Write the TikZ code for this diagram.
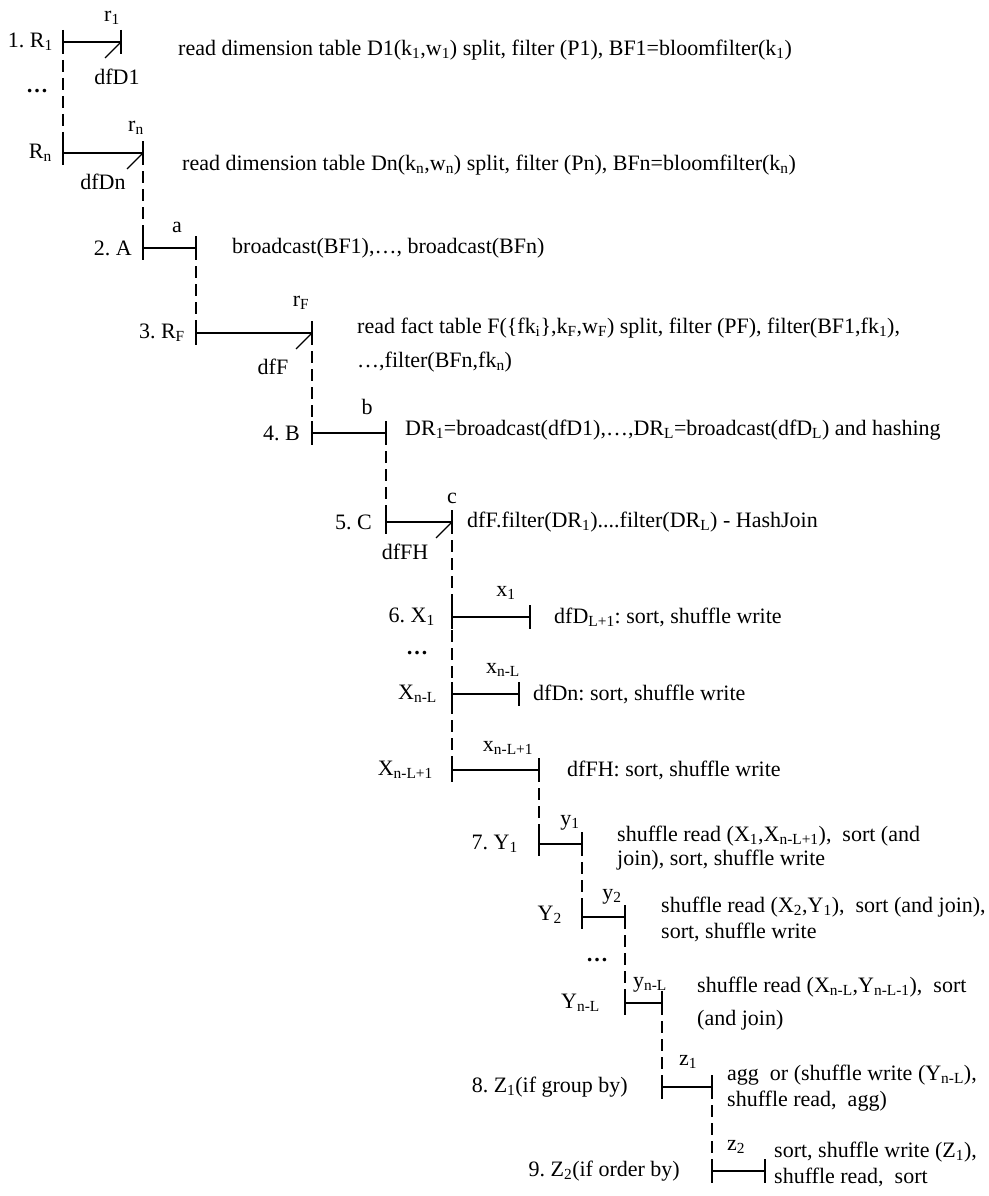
\documentclass[tikz,border=0pt]{standalone}
\usepackage{fontspec}
\setmainfont{Liberation Serif}
\newcommand{\sbs}[1]{\textsubscript{#1}}
\begin{document}
\frenchspacing
\begin{tikzpicture}[x=1pt,y=-1pt,
  every node/.style={font=\fontsize{22}{25}\selectfont, inner sep=0pt},
  bar/.style={line width=1.8pt},
  tickline/.style={line width=1.1pt},
  link/.style={line width=1.1pt, dash pattern=on 12pt off 6pt},
  lab/.style={anchor=east},
  desc/.style={anchor=west},
  toplab/.style={anchor=center}]
\useasboundingbox (0,0) rectangle (988,1196);
% row coordinates
\coordinate (r1s) at (63,42);   \coordinate (r1e) at (121,42);
\coordinate (rns) at (63,153);  \coordinate (rne) at (143,153);
\coordinate (as)  at (143,248); \coordinate (ae)  at (196,248);
\coordinate (fs)  at (196,333); \coordinate (fe)  at (312,333);
\coordinate (bs)  at (312,433); \coordinate (be)  at (386,433);
\coordinate (cs)  at (386,522); \coordinate (ce)  at (452,522);
\coordinate (x1s) at (452,617); \coordinate (x1e) at (530,617);
\coordinate (x2s) at (452,694); \coordinate (x2e) at (519,694);
\coordinate (x3s) at (452,770); \coordinate (x3e) at (539,770);
\coordinate (y1s) at (539,844); \coordinate (y1e) at (582,844);
\coordinate (y2s) at (582,917); \coordinate (y2e) at (625,917);
\coordinate (y3s) at (625,1003); \coordinate (y3e) at (662,1003);
\coordinate (z1s) at (662,1087); \coordinate (z1e) at (712,1087);
\coordinate (z2s) at (712,1171); \coordinate (z2e) at (765,1171);
% bars
\foreach \a/\b in {r1s/r1e,rns/rne,as/ae,fs/fe,bs/be,cs/ce,x1s/x1e,x2s/x2e,x3s/x3e,y1s/y1e,y2s/y2e,y3s/y3e,z1s/z1e,z2s/z2e}
  \draw[bar] (\a) -- (\b);
% ticks
\foreach \c in {r1s,r1e,rns,rne,as,ae,fs,fe,bs,be,cs,ce,x1s,x1e,x2s,x2e,x3s,x3e,y1s,y1e,y2s,y2e,y3s,y3e,z1s,z1e,z2s,z2e}
  \draw[tickline] ([yshift=12pt]\c) -- ([yshift=-12pt]\c);
% slashes
\foreach \c in {r1e,rne,fe,ce}
  \draw[tickline] (\c) -- ++(-16,16);
% dashed links
\draw[link] (r1s) -- (rns);
\draw[link] (rne) -- (as);
\draw[link] (ae) -- (fs);
\draw[link] (fe) -- (bs);
\draw[link] (be) -- (cs);
\draw[link] (ce) -- (x3s);
\draw[link] (x3e) -- (y1s);
\draw[link] (y1e) -- (y2s);
\draw[link] (y2e) -- (y3s);
\draw[link] (y3e) -- (z1s);
\draw[link] (z1e) -- (z2s);
% left labels
\node[lab] (lr1) at (53,42) {1. R\sbs{1}};
\node (ld1) at (37,91) {\textbf{\dots}};
\node[lab] (lrn) at (52,153) {R\sbs{n}};
\node[lab] (la) at (132,248) {2. A};
\node[lab] (lf) at (185,333) {3. R\sbs{F}};
\node[lab] (lb) at (300,433) {4. B};
\node[lab] (lc) at (372,522) {5. C};
\node[lab] (lx1) at (435,617) {6. X\sbs{1}};
\node (ld2) at (417,653) {\textbf{\dots}};
\node[lab] (lx2) at (437,694) {X\sbs{n-L}};
\node[lab] (lx3) at (433,770) {X\sbs{n-L+1}};
\node[lab] (ly1) at (518,844) {7. Y\sbs{1}};
\node[lab] (ly2) at (562,915) {Y\sbs{2}};
\node (ld3) at (597,960) {\textbf{\dots}};
\node[lab] (ly3) at (600,1003) {Y\sbs{n-L}};
\node[lab] (lz1) at (628,1087) {8. Z\sbs{1}(if group by)};
\node[lab] (lz2) at (680,1171) {9. Z\sbs{2}(if order by)};
% top labels
\node[toplab] (tr1) at (112,18) {r\sbs{1}};
\node[toplab] (trn) at (136,128) {r\sbs{n}};
\node[toplab] (ta) at (177,227) {a};
\node[toplab] (tf) at (301,303) {r\sbs{F}};
\node[toplab] (tb) at (367,407) {b};
\node[toplab] (tc) at (452,498) {c};
\node[toplab] (tx1) at (506,593) {x\sbs{1}};
\node[toplab] (tx2) at (503,670) {x\sbs{n-L}};
\node[toplab] (tx3) at (508,748) {x\sbs{n-L+1}};
\node[toplab] (ty1) at (570,823) {y\sbs{1}};
\node[toplab] (ty2) at (612,897) {y\sbs{2}};
\node[toplab] (ty3) at (650,985) {y\sbs{n-L}};
\node[toplab] (tz1) at (688,1062) {z\sbs{1}};
\node[toplab] (tz2) at (736,1147) {z\sbs{2}};
% bottom labels
\node (bd1) at (117,77) {dfD1};
\node (bdn) at (103,182) {dfDn};
\node (bdf) at (273,367) {dfF};
\node (bdh) at (405,552) {dfFH};
% descriptions
\node[desc] (d1) at (178,50) {read dimension table D1(k\sbs{1},w\sbs{1}) split, filter (P1), BF1=bloomfilter(k\sbs{1})};
\node[desc] (d2) at (182,165) {read dimension table Dn(k\sbs{n},w\sbs{n}) split, filter (Pn), BFn=bloomfilter(k\sbs{n})};
\node[desc] (d3) at (232,248) {broadcast(BF1),\dots, broadcast(BFn)};
\node[desc] (d4a) at (357,328) {read fact table F(\{fk\sbs{i}\},k\sbs{F},w\sbs{F}) split, filter (PF), filter(BF1,fk\sbs{1}),};
\node[desc] (d4b) at (357,362) {\dots,filter(BFn,fk\sbs{n})};
\node[desc] (d5) at (405,430) {DR\sbs{1}=broadcast(dfD1),\dots,DR\sbs{L}=broadcast(dfD\sbs{L}) and hashing};
\node[desc] (d6) at (467,522) {dfF.filter(DR\sbs{1})....filter(DR\sbs{L}) - HashJoin};
\node[desc] (d7) at (554,617) {dfD\sbs{L+1}: sort, shuffle write};
\node[desc] (d8) at (533,694) {dfDn: sort, shuffle write};
\node[desc] (d9) at (567,770) {dfFH: sort, shuffle write};
\node[desc] (d10a) at (617,836) {shuffle read (X\sbs{1},X\sbs{n-L+1}),\ \ sort (and};
\node[desc] (d10b) at (617,860) {join), sort, shuffle write};
\node[desc] (d11a) at (661,907) {shuffle read (X\sbs{2},Y\sbs{1}),\ \ sort (and join),};
\node[desc] (d11b) at (661,932) {sort, shuffle write};
\node[desc] (d12a) at (697,987) {shuffle read (X\sbs{n-L},Y\sbs{n-L-1}),\ \ sort};
\node[desc] (d12b) at (697,1020) {(and join)};
\node[desc] (d13a) at (727,1075) {agg\ \ or (shuffle write (Y\sbs{n-L}),};
\node[desc] (d13b) at (727,1101) {shuffle read,\ \ agg)};
\node[desc] (d14a) at (774,1152) {sort, shuffle write (Z\sbs{1}),};
\node[desc] (d14b) at (774,1177) {shuffle read,\ \ sort};
\end{tikzpicture}
\end{document}
